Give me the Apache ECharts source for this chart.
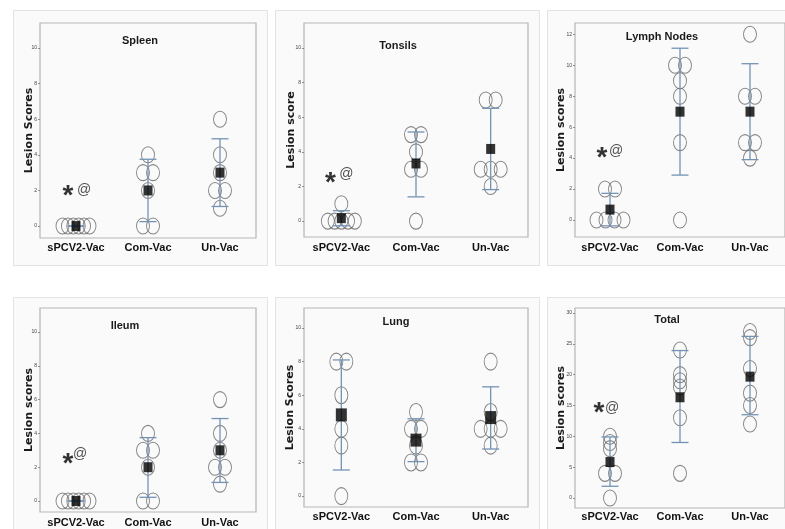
<!DOCTYPE html>
<html><head><meta charset="utf-8">
<script src="https://cdn.jsdelivr.net/npm/echarts@6/dist/echarts.min.js"></script>
<style>html,body{margin:0;padding:0;background:#fff}#c{width:785px;height:529px}</style>
</head><body><div id="c"></div>
<script>
// ---------- data ----------
const categories = ['sPCV2-Vac', 'Com-Vac', 'Un-Vac'];
const panelTitles = ['Spleen', 'Tonsils', 'Lymph Nodes', 'Ileum', 'Lung', 'Total'];
const yAxisNames = ['Lesion Scores', 'Lesion score', 'Lesion scores', 'Lesion scores', 'Lesion Scores', 'Lesion scores'];
const yTicks10 = [0, 2, 4, 6, 8, 10];
const yTicks12 = [0, 2, 4, 6, 8, 10, 12];
const yTicks30 = [0, 5, 10, 15, 20, 25, 30];

// individual lesion scores: [sPCV2-Vac, Com-Vac, Un-Vac]
const spleenScores  = [[0,0,0,0,0,0], [4,3,3,2,0,0], [6,4,3,2,2,1]];
const tonsilsScores = [[1,0,0,0,0,0], [5,5,4,3,3,0], [7,7,3,3,3,2]];
const lymphScores   = [[2,2,0,0,0,0], [10,10,9,8,5,0], [12,8,8,5,5,4]];
const ileumScores   = [[0,0,0,0,0,0], [4,3,3,2,0,0], [6,4,3,2,2,1]];
const lungScores    = [[8,8,6,4,3,0], [5,4,4,3,2,2], [8,5,4,4,4,3]];
const totalScores   = [[10,9,8,4,4,0], [24,20,19,18,13,4], [27,26,21,17,15,12]];

// group means
const spleenMeans  = [0, 2, 3];
const tonsilsMeans = [0.17, 3.33, 4.17];
const lymphMeans   = [0.67, 7, 7];
const ileumMeans   = [0, 2, 3];
const lungMeans    = [4.83, 3.33, 4.67];
const totalMeans   = [5.83, 16.33, 19.67];

// error bars (mean ± SD): lower and upper ends
const spleenLow  = [0, 0.25, 1.1],   spleenHigh  = [0, 3.75, 4.9];
const tonsilsLow = [-0.27, 1.4, 1.82], tonsilsHigh = [0.6, 5.15, 6.52];
const lymphLow   = [-0.38, 2.9, 3.9], lymphHigh   = [1.72, 11.1, 10.1];
const ileumLow   = [0, 0.22, 1.1],   ileumHigh   = [0, 3.75, 4.88];
const lungLow    = [1.55, 2.05, 2.8], lungHigh    = [8.1, 4.6, 6.5];
const totalLow   = [1.9, 9.0, 13.5],  totalHigh   = [9.9, 23.9, 26.2];

// significance annotation ("*" and "@") heights on sPCV2-Vac, in score units
const starY = [2.0, 2.55, 4.35, 2.55, null, 14.7];
const atY   = [2.0, 2.7, 4.45, 2.75, null, 14.6];

// ---------- layout ----------
const panels = [
  {scores: spleenScores,  means: spleenMeans,  low: spleenLow,  high: spleenHigh,  ticks: yTicks10,
   grid: {left: 40, top: 23, width: 216, height: 215}, yMin: -0.67, yMax: 11.4, titlePos: [140, 35], nameGap: 5.5, labelMargin: 4},
  {scores: tonsilsScores, means: tonsilsMeans, low: tonsilsLow, high: tonsilsHigh, ticks: yTicks10,
   grid: {left: 304, top: 23, width: 224, height: 214}, yMin: -0.92, yMax: 11.45, titlePos: [398, 40], nameGap: 7.5, labelMargin: 5},
  {scores: lymphScores,   means: lymphMeans,   low: lymphLow,   high: lymphHigh,   ticks: yTicks12,
   grid: {left: 575, top: 23, width: 216, height: 214}, yMin: -1.1, yMax: 12.73, titlePos: [662, 31], nameGap: 8.5, labelMargin: 5},
  {scores: ileumScores,   means: ileumMeans,   low: ileumLow,   high: ileumHigh,   ticks: yTicks10,
   grid: {left: 40, top: 308, width: 216, height: 204}, yMin: -0.65, yMax: 11.42, titlePos: [125, 320], nameGap: 5.5, labelMargin: 5},
  {scores: lungScores,    means: lungMeans,    low: lungLow,    high: lungHigh,    ticks: yTicks10,
   grid: {left: 304, top: 308, width: 224, height: 199}, yMin: -0.65, yMax: 11.19, titlePos: [396, 316], nameGap: 8.5, labelMargin: 4, big: true},
  {scores: totalScores,   means: totalMeans,   low: totalLow,   high: totalHigh,   ticks: yTicks30,
   grid: {left: 575, top: 308, width: 216, height: 200}, yMin: -1.62, yMax: 30.8, titlePos: [667, 314], nameGap: 8.5, labelMargin: 3}
];

const BOLD_FONT = '"Liberation Sans", Arial, sans-serif';
const ERR_COLOR = '#7393b5';
const CIRCLE = 'path://M0,8A6.5,8,0,1,1,13,8A6.5,8,0,1,1,0,8Z';

const grids = [], xAxes = [], yAxes = [], series = [], titles = [];

panels.forEach((p, i) => {
  grids.push(Object.assign({show: true, borderColor: '#b5b5b5', borderWidth: 1.2, backgroundColor: 'transparent'}, p.grid));
  titles.push({text: panelTitles[i], left: p.titlePos[0], top: p.titlePos[1], textAlign: 'center', padding: 0,
    textStyle: {fontFamily: BOLD_FONT, fontWeight: 'bold', fontSize: 11, color: '#1a1a1a'}});
  xAxes.push({type: 'category', gridIndex: i, data: categories, boundaryGap: true,
    axisLine: {show: false}, axisTick: {show: false},
    axisLabel: {interval: 0, hideOverlap: false, margin: p.labelMargin, fontFamily: BOLD_FONT, fontWeight: 'bold', fontSize: 11, color: '#111'}});
  yAxes.push({type: 'value', gridIndex: i, min: p.yMin, max: p.yMax, splitLine: {show: false},
    axisLine: {show: false},
    axisTick: {show: true, length: 2, customValues: p.ticks, lineStyle: {color: '#777', width: 0.8}},
    axisLabel: {customValues: p.ticks, fontSize: 5, color: '#444', margin: 3},
    name: yAxisNames[i], nameLocation: 'middle', nameGap: p.nameGap, nameMoveOverlap: false,
    nameTextStyle: {fontFamily: '"DejaVu Sans", sans-serif', fontWeight: 'bold', fontSize: 11, color: '#1a1a1a'}});

  // individual scores (dodged when tied)
  const pts = [];
  p.scores.forEach((grp, ci) => {
    const counts = {};
    grp.forEach(v => counts[v] = (counts[v] || 0) + 1);
    const seen = {};
    grp.forEach(v => {
      const n = counts[v];
      const k = seen[v] = (seen[v] === undefined ? 0 : seen[v] + 1);
      const sp = n <= 3 ? 10 : 27 / (n - 1);
      pts.push({value: [ci, v], symbolOffset: [(k - (n - 1) / 2) * sp, 0]});
    });
  });
  series.push({type: 'scatter', xAxisIndex: i, yAxisIndex: i, data: pts, symbol: CIRCLE,
    symbolSize: p.big ? [13, 17] : [13, 16], silent: true, z: 2,
    itemStyle: {color: 'rgba(0,0,0,0)', borderColor: '#666', borderWidth: 1}});

  // error bars
  series.push({type: 'custom', xAxisIndex: i, yAxisIndex: i, z: 3, silent: true,
    data: categories.map((c, ci) => [ci, p.low[ci], p.high[ci]]),
    encode: {x: 0, y: [1, 2]},
    renderItem: (params, api) => {
      const lo = api.coord([api.value(0), api.value(1)]);
      const hi = api.coord([api.value(0), api.value(2)]);
      const w = 8.5, st = {stroke: ERR_COLOR, lineWidth: 1.3};
      return {type: 'group', children: [
        {type: 'line', shape: {x1: lo[0], y1: lo[1], x2: hi[0], y2: hi[1]}, style: st},
        {type: 'line', shape: {x1: lo[0] - w, y1: lo[1], x2: lo[0] + w, y2: lo[1]}, style: st},
        {type: 'line', shape: {x1: hi[0] - w, y1: hi[1], x2: hi[0] + w, y2: hi[1]}, style: st}
      ]};
    }});

  // means
  series.push({type: 'scatter', xAxisIndex: i, yAxisIndex: i, z: 4, silent: true,
    data: p.means.map((m, ci) => [ci, m]), symbol: 'rect',
    symbolSize: p.big ? [11, 13] : [9, 10], itemStyle: {color: '#000'}});

  // annotations
  if (starY[i] !== null) {
    series.push({type: 'scatter', xAxisIndex: i, yAxisIndex: i, z: 5, silent: true, symbolSize: 0,
      data: [[0, starY[i]]],
      label: {show: true, formatter: '*', position: 'inside', offset: [i === 1 || i === 5 ? -11 : -8, 6],
        fontSize: 28, fontWeight: 'bold', color: '#000', fontFamily: 'Liberation Sans, Arial, sans-serif'}});
    series.push({type: 'scatter', xAxisIndex: i, yAxisIndex: i, z: 5, silent: true, symbolSize: 0,
      data: [[0, atY[i]]],
      label: {show: true, formatter: '@', position: 'inside', offset: [[8, 5, 6, 4, 0, 2][i], 0],
        fontSize: 14, color: '#222', fontFamily: 'Liberation Sans, Arial, sans-serif'}});
  }
});

const cardStyle = {fill: '#fafafa', stroke: '#e3e3e3', lineWidth: 1};
const cards = [[13,10,254,255],[275,10,264,255],[547,10,250,255],[13,297,254,240],[275,297,264,240],[547,297,250,240]]
  .map(r => ({type: 'rect', z: -10, silent: true, shape: {x: r[0] + 0.5, y: r[1] + 0.5, width: r[2], height: r[3]}, style: cardStyle}));

const chart = echarts.init(document.getElementById('c'), null, {renderer: 'canvas'});
chart.setOption({
  animation: false,
  backgroundColor: '#fff',
  title: titles,
  graphic: cards,
  grid: grids,
  xAxis: xAxes,
  yAxis: yAxes,
  series: series
});
</script></body></html>
